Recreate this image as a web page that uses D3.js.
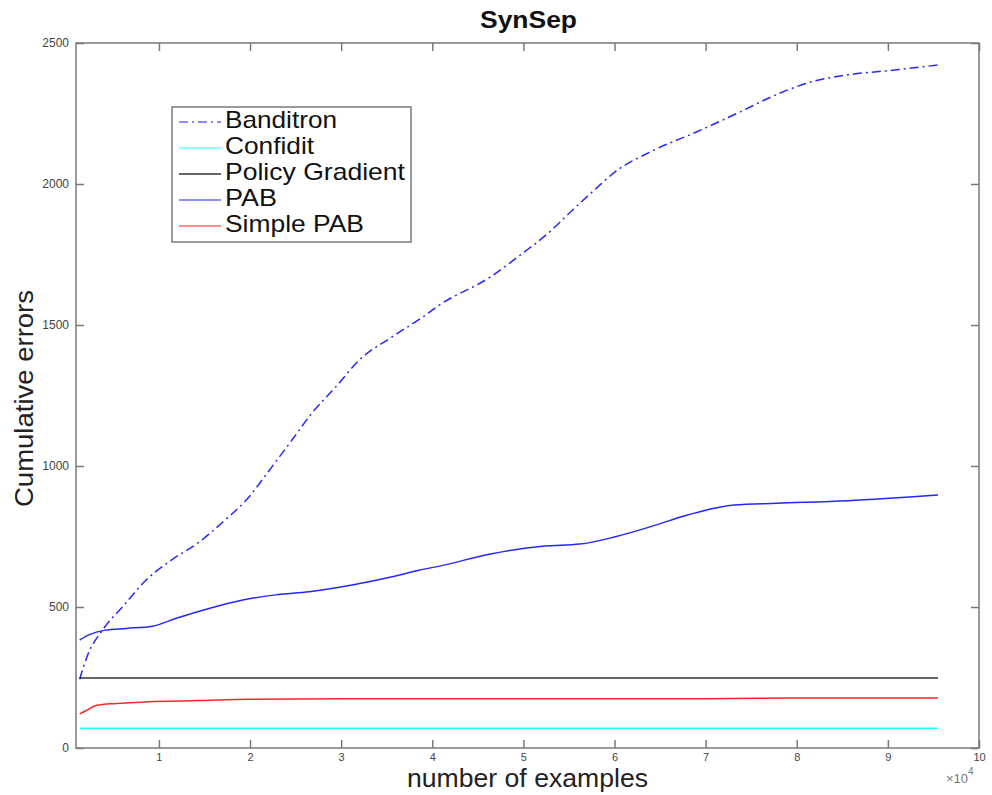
<!DOCTYPE html>
<html>
<head>
<meta charset="utf-8">
<script src="https://cdn.jsdelivr.net/npm/d3@7"></script>
<style>
  html, body { margin: 0; padding: 0; background: #fff; }
  svg { display: block; font-family: "Liberation Sans", Arial, Helvetica, sans-serif; }
</style>
</head>
<body>
<svg id="chart" width="992" height="795"></svg>
<script>
// ---- data (x in units of 10^4 examples, y = cumulative errors) ----
const xTicks = [1, 2, 3, 4, 5, 6, 7, 8, 9, 10];
const yTicks = [0, 500, 1000, 1500, 2000, 2500];

const banditron = [
  [0.13,244],[0.21,323],[0.38,418],[0.60,500],[0.86,596],[1.14,667],[1.44,730],
  [1.69,798],[1.96,880],[2.24,997],[2.46,1092],[2.68,1188],[2.94,1280],[3.20,1376],
  [3.56,1458],[3.89,1527],[4.08,1571],[4.64,1671],[4.99,1754],[5.27,1825],[5.54,1908],
  [5.78,1979],[6.01,2044],[6.40,2115],[6.91,2186],[7.38,2256],[7.77,2316],[8.17,2363],
  [8.56,2387],[9.07,2404],[9.55,2422]
];
const confidit = [[0.13,70],[9.55,70]];
const policyGradient = [[0.13,248],[9.55,248]];
const pab = [
  [0.13,383],[0.23,401],[0.41,418],[0.64,424],[0.93,432],[1.19,460],[1.55,495],
  [1.92,525],[2.28,543],[2.65,554],[3.12,578],[3.56,607],[3.86,631],[4.08,645],
  [4.64,688],[5.23,716],[5.62,723],[6.01,749],[6.40,785],[6.80,826],[7.31,862],
  [7.78,868],[8.56,877],[9.55,897]
];
const simplePab = [
  [0.13,121],[0.20,132],[0.31,151],[0.53,158],[0.89,164],[1.44,168],[1.99,173],
  [3,175],[5,175],[7,175],[8,177],[9.55,177]
];

const seriesNames = ["Banditron", "Confidit", "Policy Gradient", "PAB", "Simple PAB"];
const seriesData = [banditron, confidit, policyGradient, pab, simplePab];
const seriesColors = ["#0000ff", "#00ffff", "#000000", "#0000ff", "#ff0000"];
const seriesDash = ["9,4,2,4", null, null, null, null];
const legendWidths = [112, 89, 180, 52, 139];

// ---- layout ----
const svg = d3.select("#chart");
const L = 76, R = 979, T = 43, B = 748;
const x = d3.scaleLinear().domain([0.09, 10]).range([L, R]);
const y = d3.scaleLinear().domain([0, 2500]).range([B, T]);
const axisColor = "#7a7a7a";
const tickLen = 8;
const fmt = d3.format("d");

// frame
svg.append("rect").attr("x", L).attr("y", T).attr("width", R - L).attr("height", B - T)
  .attr("fill", "none").attr("stroke", axisColor).attr("stroke-width", 1.5);

// axes via d3 (ticks inward)
const xAxisB = d3.axisBottom(x).tickValues(xTicks).tickFormat(fmt).tickSizeInner(-tickLen).tickSizeOuter(0).tickPadding(5);
const gx = svg.append("g").attr("transform", `translate(0,${B})`).call(xAxisB);
gx.select(".domain").remove();
gx.selectAll("line").attr("stroke", axisColor).attr("stroke-width", 1.5);
gx.selectAll("text").attr("fill", "#444").style("font-size", "11px");

const xAxisT = d3.axisTop(x).tickValues(xTicks).tickSizeInner(-tickLen).tickSizeOuter(0).tickFormat("");
const gxt = svg.append("g").attr("transform", `translate(0,${T})`).call(xAxisT);
gxt.select(".domain").remove();
gxt.selectAll("line").attr("stroke", axisColor).attr("stroke-width", 1.5);

const yAxisL = d3.axisLeft(y).tickValues(yTicks).tickFormat(fmt).tickSizeInner(-tickLen).tickSizeOuter(0).tickPadding(7);
const gy = svg.append("g").attr("transform", `translate(${L},0)`).call(yAxisL);
gy.select(".domain").remove();
gy.selectAll("line").attr("stroke", axisColor).attr("stroke-width", 1.5);
gy.selectAll("text").attr("fill", "#444").style("font-size", "12px");

const yAxisR = d3.axisRight(y).tickValues(yTicks).tickSizeInner(-tickLen).tickSizeOuter(0).tickFormat("");
const gyr = svg.append("g").attr("transform", `translate(${R},0)`).call(yAxisR);
gyr.select(".domain").remove();
gyr.selectAll("line").attr("stroke", axisColor).attr("stroke-width", 1.5);

// exponent label
const expo = svg.append("text").attr("x", 946).attr("y", 783)
  .attr("fill", "#777").style("font-size", "13px");
expo.append("tspan").text("\u00d710");
expo.append("tspan").attr("dy", -8).style("font-size", "10px").text("4");

// lines
const line = d3.line().x(d => x(d[0])).y(d => y(d[1])).curve(d3.curveMonotoneX);
const plot = svg.append("g");
seriesData.forEach((data, i) => {
  plot.append("path").datum(data).attr("d", line)
    .attr("fill", "none").attr("stroke", seriesColors[i])
    .attr("stroke-width", i === 2 ? 1.6 : 1.5)
    .attr("stroke-opacity", i === 2 ? 0.8 : 0.85)
    .attr("stroke-dasharray", seriesDash[i]);
});

// title and labels
svg.append("text").attr("x", 528.5).attr("y", 28).attr("text-anchor", "middle")
  .style("font-size", "24px").style("font-weight", "bold").attr("fill", "#111")
  .attr("textLength", 97).attr("lengthAdjust", "spacingAndGlyphs").text("SynSep");
svg.append("text").attr("x", 527.5).attr("y", 787).attr("text-anchor", "middle")
  .style("font-size", "25px").attr("fill", "#222")
  .attr("textLength", 241).attr("lengthAdjust", "spacingAndGlyphs").text("number of examples");
svg.append("text").attr("transform", "translate(33,398.5) rotate(-90)").attr("text-anchor", "middle")
  .style("font-size", "26px").attr("fill", "#222")
  .attr("textLength", 217).attr("lengthAdjust", "spacingAndGlyphs").text("Cumulative errors");

// legend
const lg = svg.append("g");
lg.append("rect").attr("x", 172).attr("y", 107).attr("width", 239).attr("height", 135)
  .attr("fill", "#fff").attr("stroke", axisColor).attr("stroke-width", 1.5);
seriesNames.forEach((name, i) => {
  const yy = 122 + i * 26;
  lg.append("line").attr("x1", 179).attr("x2", 221).attr("y1", yy).attr("y2", yy)
    .attr("stroke", seriesColors[i]).attr("stroke-width", 1.5)
    .attr("stroke-opacity", i === 2 ? 0.8 : 0.6)
    .attr("stroke-dasharray", seriesDash[i]);
  lg.append("text").attr("x", 225).attr("y", yy + 6).style("font-size", "24px")
    .attr("fill", "#111").attr("textLength", legendWidths[i]).attr("lengthAdjust", "spacingAndGlyphs")
    .text(name);
});
</script>
</body>
</html>
